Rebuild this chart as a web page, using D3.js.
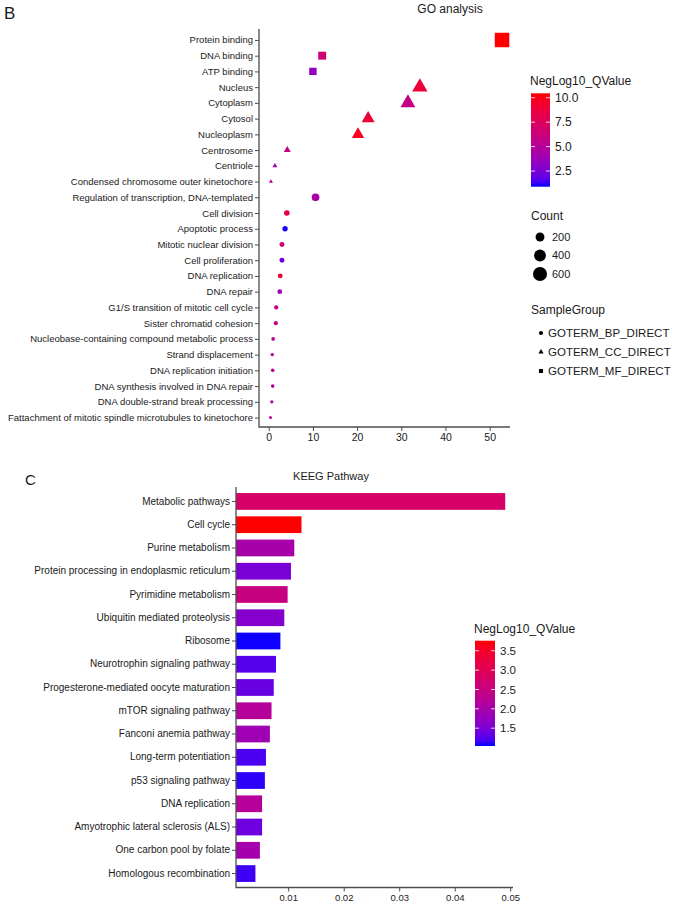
<!DOCTYPE html>
<html>
<head>
<meta charset="utf-8">
<script src="https://cdn.jsdelivr.net/npm/d3@7"></script>
<style>
  html, body { margin: 0; padding: 0; background: #fff; }
  svg { display: block; font-family: "Liberation Sans", Arial, sans-serif; }
</style>
</head>
<body>
<svg id="chart" width="677" height="906"></svg>
<script>
// ---------- GO analysis data ----------
const goTerms = [
  "Protein binding", "DNA binding", "ATP binding", "Nucleus", "Cytoplasm", "Cytosol",
  "Nucleoplasm", "Centrosome", "Centriole", "Condensed chromosome outer kinetochore",
  "Regulation of transcription, DNA-templated", "Cell division", "Apoptotic process",
  "Mitotic nuclear division", "Cell proliferation", "DNA replication", "DNA repair",
  "G1/S transition of mitotic cell cycle", "Sister chromatid cohesion",
  "Nucleobase-containing compound metabolic process", "Strand displacement",
  "DNA replication initiation", "DNA synthesis involved in DNA repair",
  "DNA double-strand break processing",
  "Fattachment of mitotic spindle microtubules to kinetochore"
];
const goPercent = [52.8, 12.1, 10.0, 34.2, 31.5, 22.5, 20.2, 4.2, 1.4, 0.5, 10.6, 4.1, 3.7,
  3.0, 3.0, 2.6, 2.5, 1.7, 1.6, 1.0, 0.8, 0.9, 0.9, 0.7, 0.4];
const goCount = [690, 158, 131, 447, 412, 294, 264, 55, 18, 7, 139, 54, 48,
  39, 39, 34, 33, 22, 21, 13, 10, 12, 12, 9, 5];
const goQ = [10.45, 6.6, 3.4, 8.9, 5.8, 9.0, 9.8, 6.0, 4.0, 4.6, 4.4, 8.6, 1.0,
  6.4, 2.4, 9.0, 3.9, 5.8, 6.0, 4.8, 5.0, 5.0, 4.8, 4.8, 5.0];
const goGroup = ["MF", "MF", "MF", "CC", "CC", "CC", "CC", "CC", "CC", "CC",
  "BP", "BP", "BP", "BP", "BP", "BP", "BP", "BP", "BP", "BP", "BP", "BP", "BP", "BP", "BP"];
const goXTicks = [0, 10, 20, 30, 40, 50];
const goQTicks = [2.5, 5.0, 7.5, 10.0];
const countLegend = [200, 400, 600];
const groupLegend = ["GOTERM_BP_DIRECT", "GOTERM_CC_DIRECT", "GOTERM_MF_DIRECT"];
const groupKeys = ["BP", "CC", "MF"];

// ---------- KEGG data ----------
const keggPathways = [
  "Metabolic pathways", "Cell cycle", "Purine metabolism",
  "Protein processing in endoplasmic reticulum", "Pyrimidine metabolism",
  "Ubiquitin mediated proteolysis", "Ribosome", "Neurotrophin signaling pathway",
  "Progesterone-mediated oocyte maturation", "mTOR signaling pathway",
  "Fanconi anemia pathway", "Long-term potentiation", "p53 signaling pathway",
  "DNA replication", "Amyotrophic lateral sclerosis (ALS)", "One carbon pool by folate",
  "Homologous recombination"
];
const keggValue = [0.0491, 0.0124, 0.0111, 0.0105, 0.0099, 0.0093, 0.0086, 0.0078,
  0.0074, 0.0070, 0.0067, 0.0060, 0.0058, 0.0053, 0.0053, 0.0049, 0.0041];
const keggQ = [2.8, 3.76, 2.0, 1.5, 2.5, 1.6, 1.05, 1.25, 1.35, 2.2, 1.9, 1.2, 1.1,
  2.2, 1.4, 1.95, 1.15];
const keggXTicks = [0.01, 0.02, 0.03, 0.04, 0.05];
const keggQTicks = [1.5, 2.0, 2.5, 3.0, 3.5];

// ---------- drawing ----------
const svg = d3.select("#chart");
const txt = "#1a1a1a";
const axisCol = "#4d4d4d";
const interp = d3.interpolateLab("#0000ff", "#ff0000");

function styleAxis(g) {
  g.select(".domain").remove();
  g.selectAll(".tick line").attr("stroke", axisCol).attr("stroke-width", 1);
  g.selectAll(".tick text").attr("fill", txt);
}

// ===== Panel B =====
const bLeft = 259, bRight = 510, bTop = 29, bBottom = 427;
const xB = d3.scaleLinear().domain([-2.2, 54.6]).range([bLeft, bRight]);
const yB = d3.scalePoint().domain(goTerms).range([30.5, 427]).padding(0.6);
const colB = d3.scaleSequential(interp).domain([0.9, 10.45]);
const rB = d3.scaleSqrt().domain([5, 690]).range([1.5, 7.45]);

svg.append("text").attr("x", 4).attr("y", 19).attr("font-size", 17).attr("fill", txt).text("B");
svg.append("text").attr("x", 450).attr("y", 13).attr("text-anchor", "middle")
  .attr("font-size", 12).attr("fill", txt).text("GO analysis");

const gyB = svg.append("g").attr("transform", `translate(${bLeft},0)`)
  .call(d3.axisLeft(yB).tickSize(4).tickPadding(2));
styleAxis(gyB);
gyB.selectAll(".tick text").attr("font-size", 9.5);

const gxB = svg.append("g").attr("transform", `translate(0,${bBottom})`)
  .call(d3.axisBottom(xB).tickValues(goXTicks).tickFormat(d3.format("d")).tickSize(4).tickPadding(3));
styleAxis(gxB);
gxB.selectAll(".tick text").attr("font-size", 10.5);

svg.append("path").attr("d", `M${bLeft},${bTop}V${bBottom}H${bRight}`)
  .attr("fill", "none").attr("stroke", axisCol).attr("stroke-width", 1.3);

function shapePath(group, r) {
  if (group === "MF") {
    const s = 1.95 * r;
    return d3.symbol(d3.symbolSquare, s * s)();
  } else if (group === "CC") {
    const t = 2.5 * r;
    return d3.symbol(d3.symbolTriangle, Math.sqrt(3) / 4 * t * t)();
  }
  return d3.symbol(d3.symbolCircle, Math.PI * r * r)();
}

const goData = goTerms.map((t, i) => ({ term: t, x: goPercent[i], c: goCount[i], q: goQ[i], g: goGroup[i] }));
svg.append("g").selectAll("path").data(goData).join("path")
  .attr("transform", d => `translate(${xB(d.x)},${yB(d.term)})`)
  .attr("d", d => shapePath(d.g, rB(d.c)))
  .attr("fill", d => colB(d.q));

// Legend: colour bar B
const defs = svg.append("defs");
function makeGradient(id, scale, dom) {
  const grad = defs.append("linearGradient").attr("id", id)
    .attr("x1", 0).attr("y1", 1).attr("x2", 0).attr("y2", 0);
  d3.range(0, 1.0001, 0.05).forEach(t => {
    grad.append("stop").attr("offset", t).attr("stop-color", scale(dom[0] + t * (dom[1] - dom[0])));
  });
}
makeGradient("gradB", colB, colB.domain());
makeGradient("gradC", null || d3.scaleSequential(interp).domain([1.04, 3.76]), [1.04, 3.76]);

function colorBar(x, top, bottom, w, grad, dom, ticks, title, fs, tfs, fmt) {
  const ys = d3.scaleLinear().domain(dom).range([bottom, top]);
  svg.append("text").attr("x", x - 1).attr("y", top - 8).attr("font-size", fs).attr("fill", txt).text(title);
  svg.append("rect").attr("x", x).attr("y", top).attr("width", w).attr("height", bottom - top)
    .attr("fill", `url(#${grad})`);
  const g = svg.append("g");
  ticks.forEach(v => {
    g.append("line").attr("x1", x).attr("x2", x + 4).attr("y1", ys(v)).attr("y2", ys(v))
      .attr("stroke", "#fff").attr("stroke-opacity", 0.8);
    g.append("line").attr("x1", x + w - 4).attr("x2", x + w).attr("y1", ys(v)).attr("y2", ys(v))
      .attr("stroke", "#fff").attr("stroke-opacity", 0.8);
    g.append("text").attr("x", x + w + 5).attr("y", ys(v)).attr("dy", "0.35em")
      .attr("font-size", tfs).attr("fill", txt).text(fmt(v));
  });
}
colorBar(531, 93.3, 186.7, 19, "gradB", colB.domain(), goQTicks, "NegLog10_QValue", 12, 12, d3.format(".1f"));

// Count legend
svg.append("text").attr("x", 531).attr("y", 220).attr("font-size", 12).attr("fill", txt).text("Count");
const countYs = [237, 255.5, 274];
countLegend.forEach((c, i) => {
  svg.append("circle").attr("cx", 540).attr("cy", countYs[i]).attr("r", rB(c)).attr("fill", "#000");
  svg.append("text").attr("x", 552).attr("y", countYs[i]).attr("dy", "0.35em")
    .attr("font-size", 11).attr("fill", txt).text(c);
});

// SampleGroup legend
svg.append("text").attr("x", 531).attr("y", 314).attr("font-size", 12).attr("fill", txt).text("SampleGroup");
const grpYs = [333, 352, 371];
groupLegend.forEach((lab, i) => {
  svg.append("path").attr("transform", `translate(541,${grpYs[i]})`)
    .attr("d", shapePath(groupKeys[i], 2.1)).attr("fill", "#000");
  svg.append("text").attr("x", 548).attr("y", grpYs[i]).attr("dy", "0.35em")
    .attr("font-size", 11.5).attr("fill", txt).text(lab);
});

// ===== Panel C =====
const cLeft = 236, cRight = 513, cTop = 487, cBottom = 887.5;
const xC = d3.scaleLinear().domain([0.0006, 0.0505]).range([cLeft, cRight]);
const yC = d3.scaleBand().domain(keggPathways).range([487.5, 887.5]).paddingInner(0.28).paddingOuter(0.24);
const colC = d3.scaleSequential(interp).domain([1.04, 3.76]);

svg.append("text").attr("x", 25).attr("y", 485).attr("font-size", 15).attr("fill", txt).text("C");
svg.append("text").attr("x", 331).attr("y", 480).attr("text-anchor", "middle")
  .attr("font-size", 11).attr("fill", txt).text("KEEG Pathway");

const keggData = keggPathways.map((p, i) => ({ p, v: keggValue[i], q: keggQ[i] }));
svg.append("g").selectAll("rect").data(keggData).join("rect")
  .attr("x", xC(xC.domain()[0]))
  .attr("y", d => yC(d.p))
  .attr("width", d => xC(d.v) - xC(xC.domain()[0]))
  .attr("height", yC.bandwidth())
  .attr("fill", d => colC(d.q));

const gyC = svg.append("g").attr("transform", `translate(${cLeft},0)`)
  .call(d3.axisLeft(yC).tickSize(4).tickPadding(2));
styleAxis(gyC);
gyC.selectAll(".tick text").attr("font-size", 10);

const gxC = svg.append("g").attr("transform", `translate(0,${cBottom})`)
  .call(d3.axisBottom(xC).tickValues(keggXTicks).tickFormat(d3.format(".2f")).tickSize(4).tickPadding(3));
styleAxis(gxC);
gxC.selectAll(".tick text").attr("font-size", 9.5);

svg.append("path").attr("d", `M${cLeft},${cTop}V${cBottom}H${cRight}`)
  .attr("fill", "none").attr("stroke", axisCol).attr("stroke-width", 1.3);

colorBar(475, 640.7, 746, 20, "gradC", colC.domain(), keggQTicks, "NegLog10_QValue", 12, 11.5, d3.format(".1f"));
</script>
</body>
</html>
